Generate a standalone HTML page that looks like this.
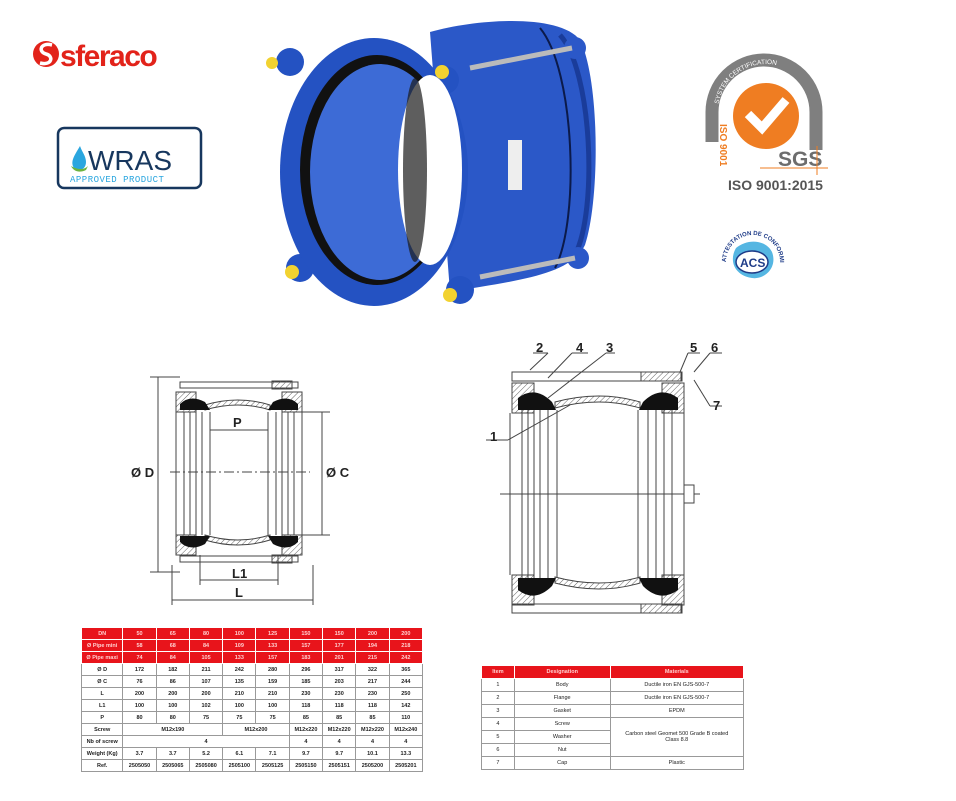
<!DOCTYPE html>
<html><head><meta charset="utf-8"><style>
body{margin:0;background:#fff;width:956px;height:801px;overflow:hidden;position:relative;font-family:"Liberation Sans",sans-serif}
table{position:absolute;border-collapse:collapse;font-family:"Liberation Sans",sans-serif;font-size:5.5px;font-weight:bold;text-align:center}
td{border:1px solid #999;padding:0;height:11px;color:#222}
tr.r td{background:#e8141b;color:#ffd0d0;border-color:#fff}
#t2 td{font-weight:normal;height:12px}
</style></head><body>
<svg width="956" height="801" style="position:absolute;left:0;top:0" xmlns="http://www.w3.org/2000/svg">
<defs>
<pattern id="h" width="4" height="4" patternUnits="userSpaceOnUse" patternTransform="rotate(45)"><line x1="0" y1="0" x2="0" y2="4" stroke="#666" stroke-width="1"/></pattern>
<path id="arc1" d="M718 112 A48 48 0 0 1 814 112"/>
<path id="arc2" d="M726 262 A27 27 0 0 1 780 262"/>
</defs>
<!-- sferaco -->
<circle cx="46" cy="54" r="13" fill="#e2231a"/>
<path d="M52 45 C40 42 38 52 46 54 C54 56 52 66 40 63" stroke="#fff" stroke-width="3.5" fill="none"/>
<text x="60" y="66" font-family="Liberation Sans" font-weight="bold" font-size="30" fill="#e2231a" letter-spacing="-1.5">sferaco</text>
<!-- WRAS -->
<rect x="58" y="128" width="143" height="60" rx="6" fill="#fff" stroke="#17375e" stroke-width="2.5"/>
<path d="M80 146 C74 156 70 162 74 168 C78 172 86 170 86 162 C86 156 82 152 80 146Z" fill="#2aa6df"/>
<path d="M71 166 C78 170 84 170 88 166 L86 170 C80 173 74 172 71 166Z" fill="#6cb33f"/>
<text x="88" y="170" font-family="Liberation Sans" font-size="28" fill="#17375e">WRAS</text>
<text x="70" y="182" font-family="Liberation Mono" font-size="9" fill="#2aa6df" letter-spacing="0.5">APPROVED PRODUCT</text>
<!-- SGS -->
<path d="M712 142 L712 112 A52 52 0 0 1 816 112 L816 150" stroke="#7f7f7f" stroke-width="13" fill="none"/>
<text font-size="6.5" fill="#fff"><textPath href="#arc1" startOffset="8">SYSTEM CERTIFICATION</textPath></text>
<circle cx="766" cy="116" r="33" fill="#ef7d22"/>
<path d="M748 114 L762 128 L786 100" stroke="#fff" stroke-width="9" fill="none"/>
<text x="0" y="0" font-size="10" font-weight="bold" fill="#ef7d22" transform="translate(720 124) rotate(90)">ISO 9001</text>
<text x="778" y="166" font-size="21" font-weight="bold" fill="#6d6d6d">SGS</text>
<line x1="760" y1="168" x2="828" y2="168" stroke="#ef7d22" stroke-width="1"/>
<line x1="817" y1="146" x2="817" y2="175" stroke="#ef7d22" stroke-width="1"/>
<text x="728" y="190" font-size="14" font-weight="bold" fill="#555">ISO 9001:2015</text>
<!-- ACS -->
<path d="M736 248 C748 238 766 240 772 252 C778 268 764 280 752 278 C736 276 728 262 736 248Z" fill="#55b6e2"/>
<ellipse cx="752" cy="262" rx="16" ry="11" fill="#fff" stroke="#1f3c88" stroke-width="1.5"/>
<text x="740" y="267" font-size="12" font-weight="bold" fill="#1f3c88">ACS</text>
<text font-size="6" font-weight="bold" fill="#1f3c88"><textPath href="#arc2">ATTESTATION DE CONFORMITÉ</textPath></text>
<!-- product -->
<path d="M430 32 C480 18 560 14 580 40 C600 80 600 200 585 245 C570 275 520 280 450 292 Z" fill="#2b58c8"/>
<path d="M560 35 C592 70 598 210 575 255" stroke="#1a3c9a" stroke-width="5" fill="none"/>
<path d="M540 28 C575 70 580 220 555 268" stroke="#0b1a4a" stroke-width="2" fill="none"/>
<circle cx="575" cy="48" r="11" fill="#2b58c8"/><circle cx="578" cy="258" r="11" fill="#2b58c8"/>
<circle cx="290" cy="62" r="14" fill="#2452c2"/><circle cx="445" cy="80" r="14" fill="#2452c2"/>
<circle cx="300" cy="268" r="14" fill="#2452c2"/><circle cx="460" cy="290" r="14" fill="#2452c2"/>
<ellipse cx="374" cy="172" rx="94" ry="134" fill="#2452c2"/>
<ellipse cx="377" cy="170" rx="77" ry="115" fill="#111"/>
<ellipse cx="380" cy="172" rx="70" ry="108" fill="#3d6bd6"/>
<ellipse cx="430" cy="170" rx="32" ry="95" fill="#fff"/>
<ellipse cx="415" cy="170" rx="12" ry="92" fill="#1a1a1a" opacity="0.7"/>
<line x1="470" y1="68" x2="572" y2="48" stroke="#bbb" stroke-width="5"/>
<line x1="480" y1="277" x2="575" y2="258" stroke="#bbb" stroke-width="5"/>
<rect x="508" y="140" width="14" height="50" fill="#eee"/>
<circle cx="272" cy="63" r="6" fill="#f2d230"/><circle cx="442" cy="72" r="7" fill="#f2d230"/>
<circle cx="292" cy="272" r="7" fill="#f2d230"/><circle cx="450" cy="295" r="7" fill="#f2d230"/>
<!-- left drawing -->
<g stroke="#444" stroke-width="1" fill="none">
<line x1="158" y1="377" x2="158" y2="572"/><line x1="150" y1="377" x2="180" y2="377"/><line x1="150" y1="572" x2="180" y2="572"/>
<rect x="180" y="382" width="118" height="6" fill="#fff"/>
<rect x="180" y="556" width="118" height="6" fill="#fff"/>
<rect x="272" y="381" width="20" height="8" fill="url(#h)"/><rect x="272" y="555" width="20" height="8" fill="url(#h)"/>
<rect x="176" y="392" width="20" height="20" fill="url(#h)"/><rect x="282" y="392" width="20" height="20" fill="url(#h)"/>
<rect x="176" y="535" width="20" height="20" fill="url(#h)"/><rect x="282" y="535" width="20" height="20" fill="url(#h)"/>
<path d="M205 405 Q238 395 270 405 L270 410 Q238 400 205 410Z" fill="url(#h)"/>
<path d="M205 540 Q238 550 270 540 L270 535 Q238 545 205 535Z" fill="url(#h)"/>
<line x1="176" y1="412" x2="176" y2="535"/><line x1="302" y1="412" x2="302" y2="535"/>
<line x1="184" y1="412" x2="184" y2="535"/><line x1="190" y1="412" x2="190" y2="535"/><line x1="196" y1="412" x2="196" y2="535"/><line x1="202" y1="412" x2="202" y2="535"/><line x1="210" y1="412" x2="210" y2="535"/>
<line x1="268" y1="412" x2="268" y2="535"/><line x1="276" y1="412" x2="276" y2="535"/><line x1="282" y1="412" x2="282" y2="535"/><line x1="288" y1="412" x2="288" y2="535"/><line x1="294" y1="412" x2="294" y2="535"/>
<line x1="170" y1="472" x2="310" y2="472" stroke-dasharray="10 3 2 3"/>
<line x1="322" y1="412" x2="322" y2="535"/><line x1="302" y1="412" x2="330" y2="412"/><line x1="302" y1="535" x2="330" y2="535"/>
<line x1="210" y1="430" x2="268" y2="430"/>
<line x1="200" y1="580" x2="278" y2="580"/><line x1="200" y1="555" x2="200" y2="585"/><line x1="278" y1="555" x2="278" y2="585"/>
<line x1="172" y1="600" x2="313" y2="600"/><line x1="172" y1="565" x2="172" y2="605"/><line x1="313" y1="565" x2="313" y2="605"/>
</g>
<g fill="#111">
<path d="M180 404 Q190 394 205 402 L210 410 L180 410Z"/><path d="M298 404 Q288 394 273 402 L268 410 L298 410Z"/>
<path d="M180 542 Q190 552 205 544 L210 536 L180 536Z"/><path d="M298 542 Q288 552 273 544 L268 536 L298 536Z"/>
</g>
<g font-weight="bold" font-size="13" fill="#222">
<text x="131" y="477">Ø D</text><text x="326" y="477">Ø C</text><text x="233" y="427">P</text><text x="232" y="578">L1</text><text x="235" y="597">L</text>
</g>
<!-- right drawing -->
<g stroke="#444" stroke-width="1" fill="none">
<rect x="512" y="372" width="170" height="9" fill="#fff"/><rect x="512" y="604" width="170" height="9" fill="#fff"/>
<rect x="641" y="372" width="40" height="9" fill="url(#h)"/><rect x="641" y="604" width="40" height="9" fill="url(#h)"/>
<rect x="512" y="383" width="22" height="30" fill="url(#h)"/><rect x="662" y="383" width="22" height="30" fill="url(#h)"/>
<rect x="512" y="575" width="22" height="30" fill="url(#h)"/><rect x="662" y="575" width="22" height="30" fill="url(#h)"/>
<path d="M555 402 Q600 390 640 402 L640 408 Q600 396 555 408Z" fill="url(#h)"/>
<path d="M555 583 Q600 595 640 583 L640 577 Q600 589 555 577Z" fill="url(#h)"/>
<line x1="510" y1="413" x2="510" y2="575"/><line x1="684" y1="413" x2="684" y2="575"/>
<line x1="522" y1="410" x2="522" y2="578"/><line x1="528" y1="410" x2="528" y2="578"/><line x1="534" y1="410" x2="534" y2="578"/><line x1="540" y1="410" x2="540" y2="578"/><line x1="548" y1="410" x2="548" y2="578"/><line x1="557" y1="410" x2="557" y2="578"/>
<line x1="638" y1="410" x2="638" y2="578"/><line x1="648" y1="410" x2="648" y2="578"/><line x1="656" y1="410" x2="656" y2="578"/><line x1="664" y1="410" x2="664" y2="578"/><line x1="672" y1="410" x2="672" y2="578"/>
<line x1="500" y1="494" x2="700" y2="494"/>
<rect x="684" y="485" width="10" height="18" fill="#fff"/>
<line x1="533" y1="353" x2="548" y2="353"/><line x1="548" y1="353" x2="530" y2="370"/>
<line x1="572" y1="353" x2="588" y2="353"/><line x1="572" y1="353" x2="548" y2="378"/>
<line x1="606" y1="353" x2="615" y2="353"/><line x1="606" y1="353" x2="548" y2="398"/>
<line x1="486" y1="440" x2="508" y2="440"/><line x1="508" y1="440" x2="570" y2="405"/>
<line x1="688" y1="353" x2="700" y2="353"/><line x1="688" y1="353" x2="680" y2="372"/>
<line x1="710" y1="353" x2="722" y2="353"/><line x1="710" y1="353" x2="694" y2="372"/>
<line x1="710" y1="406" x2="722" y2="406"/><line x1="710" y1="406" x2="694" y2="380"/>
</g>
<g fill="#111">
<path d="M518 398 Q535 385 552 402 L556 410 L518 410Z"/><path d="M678 398 Q660 385 643 402 L639 410 L678 410Z"/>
<path d="M518 590 Q535 603 552 586 L556 578 L518 578Z"/><path d="M678 590 Q660 603 643 586 L639 578 L678 578Z"/>
</g>
<g font-weight="bold" font-size="13" fill="#222">
<text x="536" y="352">2</text><text x="576" y="352">4</text><text x="606" y="352">3</text><text x="690" y="352">5</text><text x="711" y="352">6</text><text x="713" y="410">7</text><text x="490" y="441">1</text>
</g>
</svg>
<table style="left:81px;top:627px;width:342px">
<colgroup><col style="width:41px"><col span="9" style="width:33px"></colgroup>
<tr class="r"><td>DN</td><td>50</td><td>65</td><td>80</td><td>100</td><td>125</td><td>150</td><td>150</td><td>200</td><td>200</td></tr>
<tr class="r"><td>Ø Pipe mini</td><td>58</td><td>68</td><td>84</td><td>109</td><td>133</td><td>157</td><td>177</td><td>194</td><td>218</td></tr>
<tr class="r"><td>Ø Pipe maxi</td><td>74</td><td>84</td><td>105</td><td>133</td><td>157</td><td>183</td><td>201</td><td>215</td><td>242</td></tr>
<tr><td>Ø D</td><td>172</td><td>182</td><td>211</td><td>242</td><td>280</td><td>296</td><td>317</td><td>322</td><td>365</td></tr>
<tr><td>Ø C</td><td>76</td><td>86</td><td>107</td><td>135</td><td>159</td><td>185</td><td>203</td><td>217</td><td>244</td></tr>
<tr><td>L</td><td>200</td><td>200</td><td>200</td><td>210</td><td>210</td><td>230</td><td>230</td><td>230</td><td>250</td></tr>
<tr><td>L1</td><td>100</td><td>100</td><td>102</td><td>100</td><td>100</td><td>118</td><td>118</td><td>118</td><td>142</td></tr>
<tr><td>P</td><td>80</td><td>80</td><td>75</td><td>75</td><td>75</td><td>85</td><td>85</td><td>85</td><td>110</td></tr>
<tr><td>Screw</td><td colspan="3">M12x190</td><td colspan="2">M12x200</td><td>M12x220</td><td>M12x220</td><td>M12x220</td><td>M12x240</td></tr>
<tr><td>Nb of screw</td><td colspan="5">4</td><td>4</td><td>4</td><td>4</td><td>4</td></tr>
<tr><td>Weight (Kg)</td><td>3.7</td><td>3.7</td><td>5.2</td><td>6.1</td><td>7.1</td><td>9.7</td><td>9.7</td><td>10.1</td><td>13.3</td></tr>
<tr><td>Ref.</td><td>2505050</td><td>2505065</td><td>2505080</td><td>2505100</td><td>2505125</td><td>2505150</td><td>2505151</td><td>2505200</td><td>2505201</td></tr>
</table>
<table id="t2" style="left:481px;top:665px;width:263px">
<colgroup><col style="width:33px"><col style="width:96px"><col style="width:134px"></colgroup>
<tr class="r"><td style="font-weight:bold">Item</td><td style="font-weight:bold">Designation</td><td style="font-weight:bold">Materials</td></tr>
<tr><td>1</td><td>Body</td><td>Ductile iron EN GJS-500-7</td></tr>
<tr><td>2</td><td>Flange</td><td>Ductile iron EN GJS-500-7</td></tr>
<tr><td>3</td><td>Gasket</td><td>EPDM</td></tr>
<tr><td>4</td><td>Screw</td><td rowspan="3">Carbon steel Geomet 500 Grade B coated<br>Class 8.8</td></tr>
<tr><td>5</td><td>Washer</td></tr>
<tr><td>6</td><td>Nut</td></tr>
<tr><td>7</td><td>Cap</td><td>Plastic</td></tr>
</table>
</body></html>
